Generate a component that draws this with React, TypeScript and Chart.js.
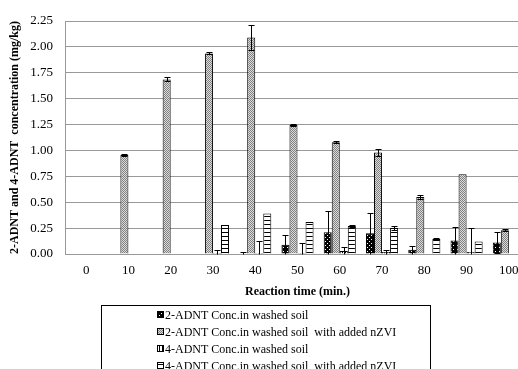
import React, { useEffect, useRef } from "react";
import { Chart, registerables } from "chart.js";

Chart.register(...registerables);

const categories = ["0", "10", "20", "30", "40", "50", "60", "70", "80", "90", "100"];

const adnt2Washed = [0, 0, 0, 0, 0, 0.09, 0.21, 0.2, 0.04, 0.13, 0.11];
const adnt2WashedErr = [0, 0, 0, 0, 0.02, 0.09, 0.21, 0.2, 0.04, 0.13, 0.1];

const adnt2Nzvi = [0, 0.955, 1.686, 1.937, 2.09, 1.245, 1.08, 0.98, 0.55, 0.77, 0.23];
const adnt2NzviErr = [0, 0.01, 0.02, 0.01, 0.12, 0.01, 0.01, 0.03, 0.02, 0, 0.01];

const adnt4Washed = [0, 0, 0, 0.01, 0.01, 0.01, 0.03, 0.02, 0.005, 0.02, 0];
const adnt4WashedErr = [0, 0, 0, 0.03, 0.12, 0.1, 0.04, 0.02, 0, 0.23, 0];

const adnt4Nzvi = [0, 0, 0, 0.28, 0.39, 0.31, 0.27, 0.25, 0.145, 0.12, 0];
const adnt4NzviErr = [0, 0, 0, 0, 0, 0, 0.01, 0.02, 0.01, 0, 0];

const seriesLabels = [
  "2-ADNT Conc.in washed soil",
  "2-ADNT Conc.in washed soil  with added nZVI",
  "4-ADNT Conc.in washed soil",
  "4-ADNT Conc.in washed soil  with added nZVI",
];

const yMin = 0;
const yMax = 2.25;
const yStep = 0.25;

const xTitle = "Reaction time (min.)";
const yTitle = "2-ADNT and 4-ADNT  concentration (mg/kg)";

const SERIF = "'Liberation Serif', 'Times New Roman', serif";

function makePattern(kind: string): CanvasPattern | string {
  const c = document.createElement("canvas");
  const ctx = c.getContext("2d")!;
  if (kind === "dark") {
    c.width = 4; c.height = 4;
    ctx.fillStyle = "#000";
    ctx.fillRect(0, 0, 4, 4);
    ctx.fillStyle = "#fff";
    ctx.fillRect(1, 1, 1, 1);
    ctx.fillRect(3, 3, 1, 1);
  } else if (kind === "grey") {
    c.width = 2; c.height = 2;
    ctx.fillStyle = "#dcdcdc";
    ctx.fillRect(0, 0, 2, 2);
    ctx.fillStyle = "#808080";
    ctx.fillRect(0, 0, 1, 1);
    ctx.fillRect(1, 1, 1, 1);
  } else if (kind === "vert") {
    c.width = 3; c.height = 1;
    ctx.fillStyle = "#fff";
    ctx.fillRect(0, 0, 3, 1);
    ctx.fillStyle = "#000";
    ctx.fillRect(0, 0, 1, 1);
  } else {
    c.width = 1; c.height = 4;
    ctx.fillStyle = "#fff";
    ctx.fillRect(0, 0, 1, 4);
    ctx.fillStyle = "#000";
    ctx.fillRect(0, 0, 1, 1);
  }
  return ctx.createPattern(c, "repeat") || "#888";
}

export default function App() {
  const ref = useRef<HTMLCanvasElement | null>(null);

  useEffect(() => {
    if (!ref.current) return;
    const fills = [makePattern("dark"), makePattern("grey"), makePattern("vert"), makePattern("horiz")];
    const errs = [adnt2WashedErr, adnt2NzviErr, adnt4WashedErr, adnt4NzviErr];

    const errorBars = {
      id: "errorBars",
      afterDatasetsDraw(chart: any) {
        const ctx = chart.ctx;
        const ys = chart.scales.y;
        ctx.save();
        ctx.strokeStyle = "#000";
        ctx.lineWidth = 1;
        chart.data.datasets.forEach((ds: any, i: number) => {
          const meta = chart.getDatasetMeta(i);
          meta.data.forEach((el: any, j: number) => {
            const e = errs[i][j];
            if (!e) return;
            const v = ds.data[j];
            const x = Math.round(el.x) + 0.5;
            const yt = Math.round(ys.getPixelForValue(v + e)) + 0.5;
            const lowV = v - e;
            const yb = Math.round(ys.getPixelForValue(Math.max(0, lowV))) + 0.5;
            ctx.beginPath();
            ctx.moveTo(x, yt);
            ctx.lineTo(x, yb);
            ctx.moveTo(x - 3, yt);
            ctx.lineTo(x + 3, yt);
            if (lowV > 0.005) {
              ctx.moveTo(x - 3, yb);
              ctx.lineTo(x + 3, yb);
            }
            ctx.stroke();
          });
        });
        ctx.restore();
      },
    };

    const boxLegend = {
      id: "boxLegend",
      afterDraw(chart: any) {
        const ctx = chart.ctx;
        ctx.save();
        ctx.strokeStyle = "#000";
        ctx.lineWidth = 1;
        ctx.strokeRect(101.5, 305.5, 329, 80);
        ctx.font = `12px ${SERIF}`;
        ctx.textBaseline = "middle";
        ctx.textAlign = "left";
        ctx.fillStyle = "#000";
        seriesLabels.forEach((lab, i) => {
          const cy = 315 + i * 17;
          ctx.fillStyle = fills[i] as any;
          ctx.fillRect(157, cy - 4, 7, 7);
          ctx.strokeStyle = "#000";
          ctx.strokeRect(157.5, cy - 3.5, 6, 6);
          ctx.fillStyle = "#000";
          ctx.fillText(lab, 165, cy + 1);
        });
        ctx.restore();
      },
    };

    const datasetsValues = [adnt2Washed, adnt2Nzvi, adnt4Washed, adnt4Nzvi];

    const chart = new Chart(ref.current, {
      type: "bar",
      data: {
        labels: categories,
        datasets: datasetsValues.map((vals, i) => ({
          label: seriesLabels[i],
          data: vals,
          backgroundColor: fills[i] as any,
          borderColor: "#000",
          borderWidth: 1,
          categoryPercentage: 0.76,
          barPercentage: 1.0,
        })),
      },
      options: {
        responsive: false,
        animation: false,
        devicePixelRatio: 1,
        layout: { padding: { top: 21, right: 2, bottom: 70, left: 0 } },
        plugins: {
          legend: { display: false },
          tooltip: { enabled: false },
        },
        scales: {
          x: {
            grid: { display: false, drawTicks: false },
            border: { display: true, color: "#999", width: 1 },
            ticks: { color: "#000", font: { family: SERIF, size: 13 }, padding: 9, maxRotation: 0, autoSkip: false },
            title: { display: true, text: xTitle, color: "#000", font: { family: SERIF, size: 12, weight: "bold" }, padding: { top: 3, bottom: 0 } },
            afterFit(scale: any) { scale.height = 45; },
          },
          y: {
            min: yMin,
            max: yMax,
            grid: { color: "#999", drawTicks: false, lineWidth: 1 },
            border: { display: true, color: "#999", width: 1 },
            ticks: {
              stepSize: yStep,
              color: "#000",
              font: { family: SERIF, size: 13 },
              padding: 12,
              callback: (v: any) => Number(v).toFixed(2),
            },
            title: { display: true, text: yTitle, color: "#000", font: { family: SERIF, size: 12, weight: "bold" }, padding: { top: 8, bottom: 0 } },
            afterFit(scale: any) { scale.width = 65; },
          },
        },
      },
      plugins: [errorBars, boxLegend],
    });
    return () => chart.destroy();
  }, []);

  return (
    <div style={{ position: "fixed", left: 0, top: 0, width: 518, height: 369, overflow: "hidden", background: "#fff" }}>
      <canvas ref={ref} width={532} height={369} style={{ width: 532, height: 369, display: "block" }} />
    </div>
  );
}
